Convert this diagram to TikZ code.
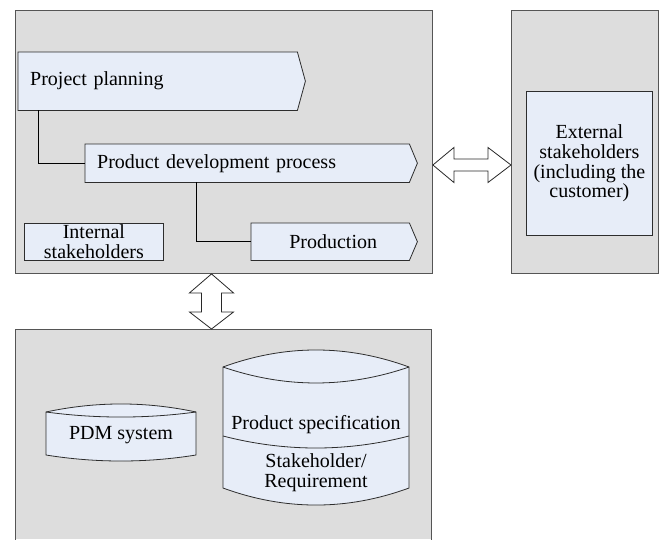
\documentclass[tikz,border=0pt]{standalone}
\usepackage{fontspec}
\setmainfont{Liberation Serif}
\newfontfamily\labelface{Liberation Serif}
\usetikzlibrary{calc}
\pgfdeclarelayer{panels}
\pgfdeclarelayer{shapes}
\pgfsetlayers{panels,shapes,main}
\definecolor{panelgray}{RGB}{221,221,221}
\definecolor{panelline}{RGB}{85,85,85}
\definecolor{boxblue}{RGB}{231,237,248}
\definecolor{boxline}{RGB}{45,45,45}
\definecolor{arrowline}{RGB}{40,40,40}
\tikzset{
  txt/.style={font=\labelface\fontsize{20}{19.7}\selectfont, text=black},
  panel/.style={fill=panelgray, draw=panelline, line width=0.9pt, anchor=north west, inner sep=0pt},
  rectbox/.style={txt, draw=boxline, fill=boxblue, line width=0.8pt, anchor=north west, align=center, inner sep=0pt},
  chevbox/.style={txt, anchor=north west, inner xsep=12pt, inner ysep=0pt},
  chevfill/.style={draw=boxline, fill=boxblue, line width=0.8pt, line join=miter},
  dbshape/.style={draw=boxline, fill=boxblue, line width=0.8pt},
  link/.style={draw=black, line width=0.8pt},
  bigarrow/.style={draw=arrowline, fill=white, line width=0.8pt, line join=miter},
}
\begin{document}
\begin{tikzpicture}[x=1pt, y=-1pt]
\useasboundingbox (0,0) rectangle (660,539);

% panels
\begin{pgfonlayer}{panels}
  \node[panel, minimum width=417, minimum height=263] (top) at (15,10) {};
  \node[panel, minimum width=147, minimum height=263] (right) at (511,10) {};
  \node[panel, draw=none, minimum width=416, minimum height=210] (bot) at (15,329) {};
  \draw[draw=panelline, line width=0.9pt] (bot.south west) -- (bot.north west) -- (bot.north east) -- (bot.south east);
\end{pgfonlayer}

% process chevrons
\node[chevbox, text width=255pt, minimum height=58pt, align=left] (pp) at (18,52) {Project planning};
\node[chevbox, text width=300pt, minimum height=38pt, align=left] (pdp) at (85,144) {Product development process};
\node[chevbox, text width=134pt, minimum height=37pt, align=center] (prod) at (251,223) {\hspace*{6pt}Production};
\begin{pgfonlayer}{shapes}
  \foreach \n in {pp,pdp,prod}{
    \draw[chevfill] (\n.north west) -- (\n.north east) -- ([xshift=8pt]\n.east)
      -- (\n.south east) -- (\n.south west) -- cycle;
  }
\end{pgfonlayer}

% plain boxes
\node[rectbox, minimum width=139, minimum height=37] (intst) at (24,223) {Internal\\stakeholders};
\node[rectbox, minimum width=126, minimum height=144] (extst) at (526,91) {External\\stakeholders\\(including the\\customer)};

% links between the processes
\draw[link] ([xshift=20pt]pp.south west) |- (pdp.west);
\draw[link] ([xshift=111pt]pdp.south west) |- (prod.west);

% exchange arrows between the panels
\coordinate (hl) at ([yshift=-155pt]top.north east);
\coordinate (hr) at (right.west |- hl);
\draw[bigarrow] let \p1=(hl), \p2=(hr) in
  (\x1,\y1) -- (\x1+21pt,\y1+17.5pt) -- (\x1+21pt,\y1+6pt) -- (\x2-23pt,\y1+6pt)
  -- (\x2-23pt,\y1+17.5pt) -- (\x2,\y1) -- (\x2-23pt,\y1-17.5pt) -- (\x2-23pt,\y1-6pt)
  -- (\x1+21pt,\y1-6pt) -- (\x1+21pt,\y1-17.5pt) -- cycle;
\coordinate (vt) at ([xshift=196.5pt]top.south west);
\coordinate (vb) at (bot.north -| vt);
\draw[bigarrow] let \p1=(vt), \p2=(vb) in
  (\x1,\y1) -- (\x1+22pt,\y1-19pt) -- (\x1+10pt,\y1-19pt) -- (\x1+10pt,\y2+17pt)
  -- (\x1+22pt,\y2+17pt) -- (\x1,\y2) -- (\x1-22pt,\y2+17pt) -- (\x1-10pt,\y2+17pt)
  -- (\x1-10pt,\y1-19pt) -- (\x1-22pt,\y1-19pt) -- cycle;

% data stores
\begin{pgfonlayer}{shapes}
  \draw[dbshape] (46,412) .. controls (96,401.3) and (146,401.3) .. (196,412)
    -- (196,455) .. controls (146,463) and (96,463) .. (46,455) -- cycle;
  \draw[dbshape, fill=none] (46,412) .. controls (96,418.7) and (146,418.7) .. (196,412);
  \draw[dbshape] (223,367) .. controls (285,344.3) and (347,344.3) .. (409,367)
    -- (409,488) .. controls (347,510.7) and (285,510.7) .. (223,488) -- cycle;
  \draw[dbshape, fill=none] (223,367) .. controls (285,388.3) and (347,388.3) .. (409,367);
  \draw[dbshape, fill=none] (223,436) .. controls (285,452) and (347,452) .. (409,436);
\end{pgfonlayer}
\node[txt] (pdm) at (121,435) {PDM system};
\node[txt] (spec) at (316,425) {Product specification};
\node[txt, align=center] (stake) at (316,473) {Stakeholder/\\Requirement};
\end{tikzpicture}
\end{document}
